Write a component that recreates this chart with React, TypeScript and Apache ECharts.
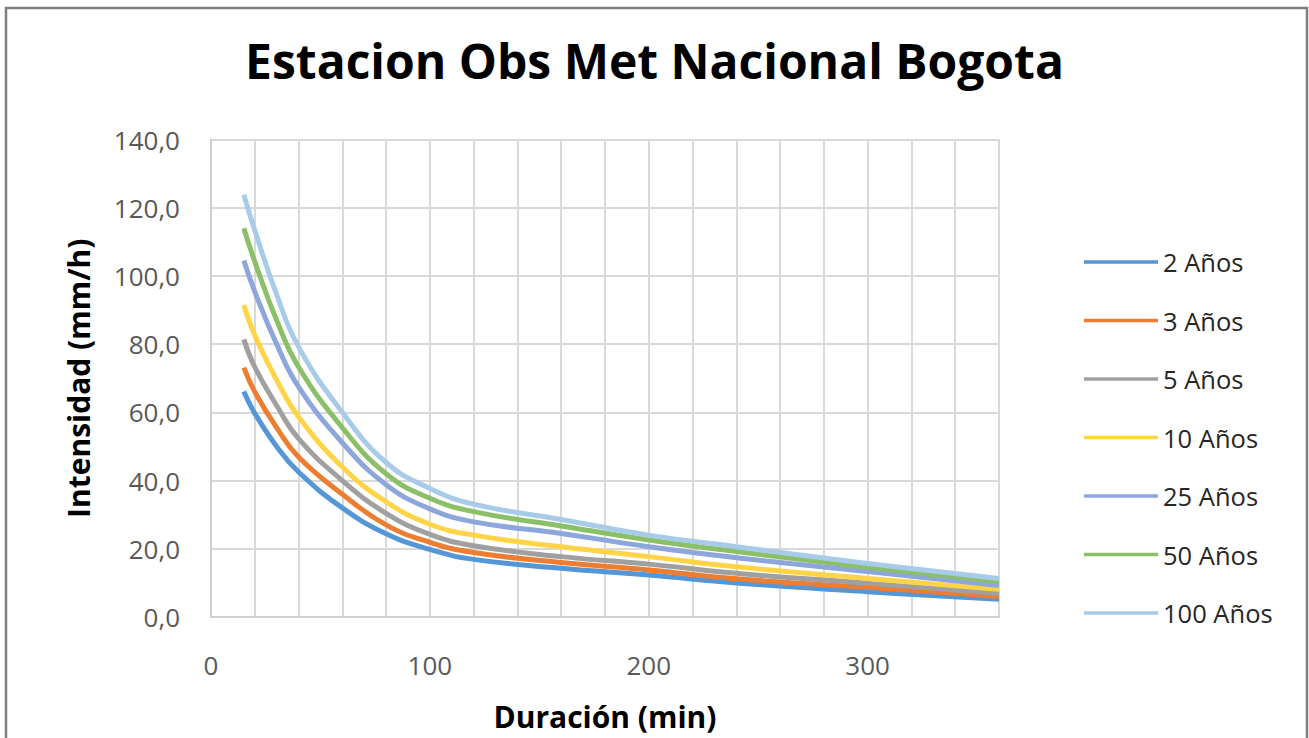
import React, { useEffect, useRef } from "react";
import * as echarts from "echarts";

const durations = [15, 20, 30, 40, 60, 80, 100, 120, 160, 200, 240, 300, 360];
const seriesNames = ["2 Años", "3 Años", "5 Años", "10 Años", "25 Años", "50 Años", "100 Años"];
const seriesColors = ["#5596D6", "#ED7D31", "#A0A0A0", "#FFD447", "#8DA6DB", "#8CC068", "#A9CBEA"];

const y2 = [66.1, 59.7, 50.0, 42.5, 32.0, 24.4, 19.8, 16.9, 14.3, 12.3, 10.0, 7.4, 5.2];
const y3 = [73.1, 66.0, 55.5, 46.9, 36.0, 27.0, 21.9, 18.9, 16.0, 13.8, 11.2, 8.7, 6.0];
const y5 = [81.4, 73.3, 62.0, 52.3, 40.0, 30.4, 24.2, 20.9, 17.7, 15.5, 12.8, 9.9, 6.9];
const y10 = [91.5, 82.6, 69.5, 58.7, 44.0, 33.8, 27.2, 24.0, 20.6, 17.7, 14.7, 11.3, 8.1];
const y25 = [104.5, 95.4, 80.0, 67.5, 51.1, 38.8, 31.7, 27.9, 24.5, 20.6, 17.4, 13.3, 9.2];
const y50 = [114.0, 104.2, 87.0, 73.3, 55.5, 42.0, 34.8, 30.9, 26.7, 22.6, 19.2, 14.6, 10.4];
const y100 = [123.8, 113.4, 94.5, 79.2, 60.0, 45.3, 37.7, 33.1, 28.6, 24.0, 20.6, 15.7, 11.3];

const allValues = [y2, y3, y5, y10, y25, y50, y100];

const FONT = "'Open Sans', 'Noto Sans', sans-serif";

export default function App() {
  const ref = useRef<HTMLDivElement>(null);
  useEffect(() => {
    if (!ref.current) return;
    const chart = echarts.init(ref.current, null, { renderer: "svg" });
    chart.setOption({
      animation: false,
      backgroundColor: "#ffffff",
      title: {
        text: "Estacion Obs Met Nacional Bogota",
        left: "center",
        top: 31,
        textStyle: { fontFamily: FONT, fontWeight: "bold", fontSize: 48, color: "#000000" },
      },
      grid: { left: 211, right: 310, top: 139.5, bottom: 121, containLabel: false },
      legend: {
        orient: "vertical",
        left: 1079,
        top: 244,
        icon: "rect",
        itemWidth: 74,
        itemHeight: 3.5,
        itemGap: 32.5,
        data: seriesNames,
        textStyle: { fontFamily: FONT, fontSize: 25.5, color: "#262626", lineHeight: 26 },
      },
      xAxis: {
        type: "value",
        min: 0,
        max: 360,
        interval: 20,
        name: "Duración (min)",
        nameLocation: "middle",
        nameGap: 84,
        nameTextStyle: { fontFamily: FONT, fontWeight: "bold", fontSize: 30, color: "#000000" },
        axisLine: { show: true, lineStyle: { color: "#d0d0d0", width: 2 } },
        axisTick: { show: false },
        axisLabel: {
          margin: 35,
          fontFamily: FONT,
          fontSize: 26,
          color: "#595959",
          formatter: (v: number) => (v % 100 === 0 ? String(v) : ""),
        },
        splitLine: { show: true, lineStyle: { color: "#d9d9d9", width: 2 } },
      },
      yAxis: {
        type: "value",
        min: 0,
        max: 140,
        interval: 20,
        name: "Intensidad (mm/h)",
        nameLocation: "middle",
        nameGap: 118,
        nameTextStyle: { fontFamily: FONT, fontWeight: "bold", fontSize: 30, color: "#000000" },
        axisLine: { show: true, lineStyle: { color: "#d0d0d0", width: 2 } },
        axisTick: { show: false },
        axisLabel: {
          margin: 31,
          fontFamily: FONT,
          fontSize: 26,
          color: "#595959",
          formatter: (v: number) => v.toFixed(1).replace(".", ","),
        },
        splitLine: { show: true, lineStyle: { color: "#d9d9d9", width: 2 } },
      },
      graphic: [
        {
          type: "rect",
          shape: { x: 6, y: 8, width: 1301, height: 760 },
          style: { fill: "none", stroke: "#7f7f7f", lineWidth: 2.5 },
          silent: true,
          z: 100,
        },
      ],
      series: seriesNames.map((name, i) => ({
        name,
        type: "line",
        smooth: 0.45,
        symbol: "none",
        showSymbol: false,
        color: seriesColors[i],
        itemStyle: { color: seriesColors[i] },
        lineStyle: { width: 5, color: seriesColors[i] },
        data: durations.map((d, j) => [d, allValues[i][j]]),
      })),
    });
    return () => chart.dispose();
  }, []);
  return <div ref={ref} style={{ position: "fixed", left: 0, top: 0, width: 1309, height: 738 }} />;
}
